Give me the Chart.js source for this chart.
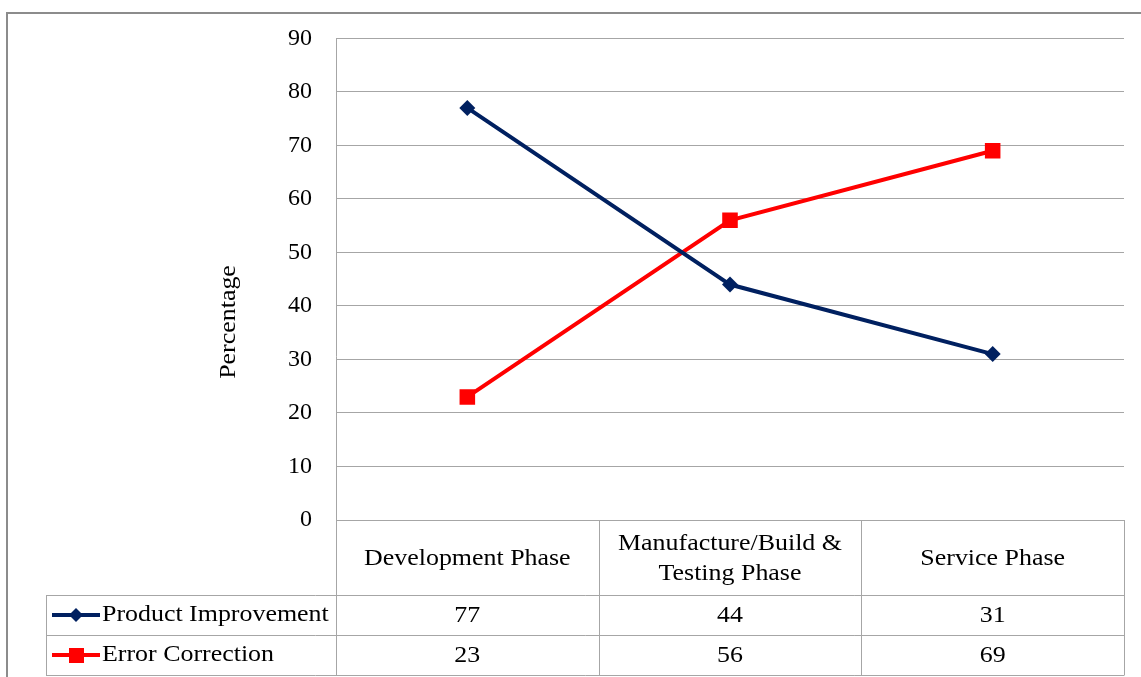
<!DOCTYPE html>
<html>
<head>
<meta charset="utf-8">
<script src="https://cdn.jsdelivr.net/npm/chart.js@4"></script>
<style>
  html, body { margin: 0; padding: 0; background: #ffffff; }
  #wrap { position: relative; width: 1141px; height: 677px; }
  canvas { display: block; }
</style>
</head>
<body>
<div id="wrap"><canvas id="c" width="1141" height="677"></canvas></div>
<script>
// Phases along the x axis (header row of the data table)
const categories = [
  ["Development Phase"],
  ["Manufacture/Build &", "Testing Phase"],
  ["Service Phase"]
];
const productImprovement = [77, 44, 31];
const errorCorrection = [23, 56, 69];
const yTicks = [0, 10, 20, 30, 40, 50, 60, 70, 80, 90];

const FONT = '"Liberation Serif", "Times New Roman", serif';
const FONT_SIZE = 24;
const TEXT_STRETCH = 1.08;
const GRID = '#a6a6a6';
const NAVY = '#002060';
const RED = '#ff0000';

const seriesList = [
  { label: 'Product Improvement', data: productImprovement, color: NAVY, style: 'rectRot', radius: 8 },
  { label: 'Error Correction', data: errorCorrection, color: RED, style: 'rect', radius: 11 }
];

// text drawn slightly wide, like the rest of the sheet's typography
function wideText(ctx, text, x, y, align) {
  ctx.save();
  ctx.translate(x, y);
  ctx.scale(TEXT_STRETCH, 1);
  ctx.textAlign = align || 'center';
  ctx.fillText(text, 0, 0);
  ctx.restore();
}

// Draws the frame, the axis title and the data table beneath the plot
const tablePlugin = {
  id: 'dataTable',
  afterDraw(chart) {
    const ctx = chart.ctx;
    const area = chart.chartArea;
    const x = chart.scales.x;
    const n = categories.length;
    const step = (area.right - area.left) / n;
    const headerBottom = area.bottom + 75;
    const rowH = 40;
    const tableBottom = headerBottom + rowH * seriesList.length;
    const legendLeft = 46;

    ctx.save();
    // outer frame
    ctx.strokeStyle = '#8c8c8c';
    ctx.lineWidth = 2;
    ctx.beginPath();
    ctx.moveTo(7, chart.height + 5);
    ctx.lineTo(7, 13);
    ctx.lineTo(chart.width + 5, 13);
    ctx.stroke();

    // axis title
    ctx.fillStyle = '#000';
    ctx.font = FONT_SIZE + 'px ' + FONT;
    ctx.textBaseline = 'middle';
    ctx.save();
    ctx.translate(229, 322);
    ctx.rotate(-Math.PI / 2);
    wideText(ctx, 'Percentage', 0, 0, 'center');
    ctx.restore();

    // table grid
    ctx.strokeStyle = GRID;
    ctx.lineWidth = 1;
    ctx.beginPath();
    const L = Math.round(area.left) + 0.5;
    const R = Math.round(area.right) + 0.5;
    ctx.moveTo(L, area.top); ctx.lineTo(L, tableBottom);
    ctx.moveTo(R, area.bottom); ctx.lineTo(R, tableBottom);
    for (let i = 1; i < n; i++) {
      const vx = Math.round(area.left + step * i) + 0.5;
      ctx.moveTo(vx, area.bottom); ctx.lineTo(vx, tableBottom);
    }
    ctx.moveTo(legendLeft + 0.5, headerBottom); ctx.lineTo(legendLeft + 0.5, tableBottom);
    for (let r = 0; r <= seriesList.length; r++) {
      const hy = Math.round(headerBottom + rowH * r) + 0.5;
      ctx.moveTo(legendLeft, hy); ctx.lineTo(R, hy);
    }
    ctx.stroke();

    // header text
    ctx.fillStyle = '#000';
    ctx.textBaseline = 'middle';
    categories.forEach((lines, i) => {
      const cx = x.getPixelForValue(i);
      const cy = (area.bottom + headerBottom) / 2 + 1;
      const lh = 30;
      lines.forEach((t, k) => {
        wideText(ctx, t, cx, cy + (k - (lines.length - 1) / 2) * lh, 'center');
      });
    });

    // rows: legend key + values
    seriesList.forEach((s, r) => {
      const cy = headerBottom + rowH * r + rowH / 2;
      ctx.strokeStyle = s.color;
      ctx.lineWidth = 4;
      ctx.beginPath();
      ctx.moveTo(52, cy); ctx.lineTo(100, cy);
      ctx.stroke();
      ctx.fillStyle = s.color;
      if (s.style === 'rect') {
        ctx.fillRect(69, cy - 7, 15, 15);
      } else {
        ctx.beginPath();
        ctx.moveTo(76, cy - 7); ctx.lineTo(83, cy); ctx.lineTo(76, cy + 7); ctx.lineTo(69, cy);
        ctx.closePath(); ctx.fill();
      }
      ctx.fillStyle = '#000';
      wideText(ctx, s.label, 102, cy, 'left');
      s.data.forEach((v, i) => {
        wideText(ctx, String(v), x.getPixelForValue(i), cy + 1, 'center');
      });
    });
    ctx.restore();
  }
};

new Chart(document.getElementById('c'), {
  type: 'line',
  data: {
    labels: categories.map(c => c.join(' ')),
    datasets: seriesList.map(s => ({
      label: s.label,
      data: s.data,
      borderColor: s.color,
      backgroundColor: s.color,
      borderWidth: 4,
      pointStyle: s.style,
      pointRadius: s.radius,
      pointBorderWidth: 0,
      tension: 0
    }))
  },
  options: {
    responsive: false,
    animation: false,
    events: [],
    layout: { padding: { top: 38, right: 17, bottom: 157, left: 0 } },
    plugins: { legend: { display: false }, tooltip: { enabled: false }, title: { display: false } },
    scales: {
      x: {
        type: 'category',
        offset: true,
        display: false
      },
      y: {
        min: 0, max: 90,
        afterFit(scale) { scale.width = 336; },
        afterBuildTicks(scale) { scale.ticks = yTicks.map(v => ({ value: v })); },
        border: { display: false },
        grid: { color: GRID, lineWidth: 1, drawTicks: false },
        ticks: {
          padding: 24,
          color: '#000',
          font: { family: FONT, size: FONT_SIZE }
        }
      }
    }
  },
  plugins: [tablePlugin]
});
</script>
</body>
</html>
